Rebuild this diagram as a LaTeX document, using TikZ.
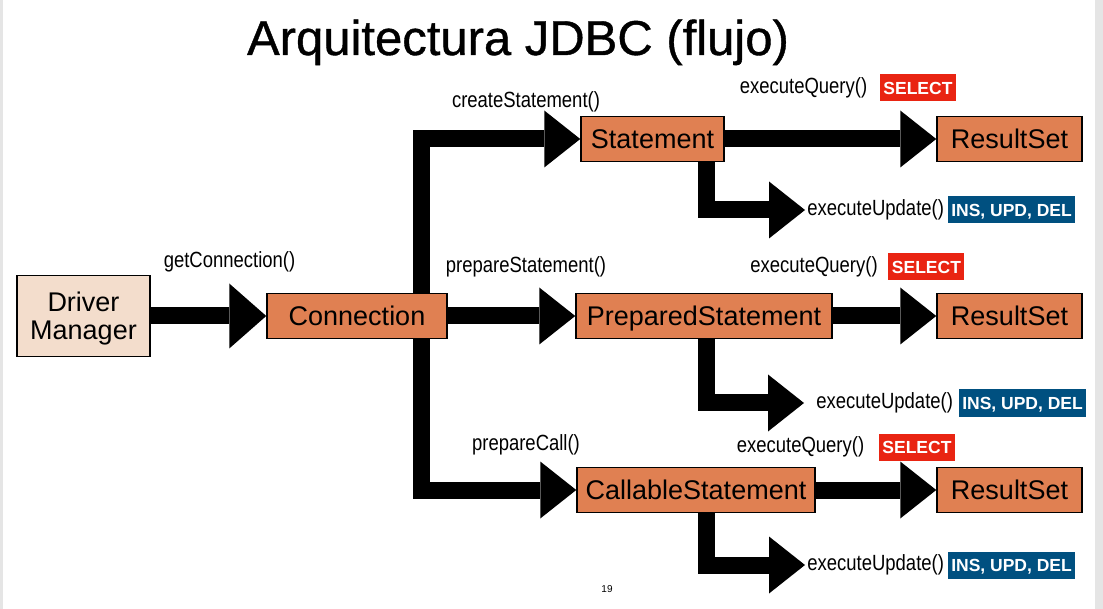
\documentclass[tikz,border=0pt]{standalone}
\usepackage{fontspec}
\setmainfont{Liberation Sans}
\newfontfamily\narrowfont[FakeStretch=0.84]{Liberation Sans}
\newfontfamily\titlefont[FakeBold=0.8]{Liberation Sans}
\usetikzlibrary{arrows.meta,positioning,backgrounds}

\definecolor{boxorange}{RGB}{224,128,82}
\definecolor{boxpeach}{RGB}{243,221,204}
\definecolor{tagred}{RGB}{233,36,18}
\definecolor{tagblue}{RGB}{0,80,128}
\definecolor{slidegray}{RGB}{229,229,229}

\tikzset{every picture/.style={line width=0.75pt}}
\tikzset{
    cls/.style={draw=black, line width=1.5pt, fill=boxorange, minimum height=45pt, inner sep=0pt, text height=19.3pt, text depth=0pt, font=\fontsize{27}{28}\selectfont},
    call/.style={inner sep=2pt, font=\narrowfont\fontsize{22}{24}\selectfont},
    tag/.style={text=white, inner xsep=3.5pt, inner ysep=0pt, minimum height=27pt, text height=12.5pt, text depth=0pt, font=\bfseries\fontsize{17.5}{19}\selectfont},
    flow/.style={line width=17pt, line join=miter, -{Triangle[length=36pt, width=57pt, line width=0pt]}}
}

\begin{document}
\begin{tikzpicture}[x=1pt, y=-1pt]
    \useasboundingbox (0,0) rectangle (1103,609);

    \node[anchor=base, font=\titlefont\fontsize{49}{52}\selectfont] (title) at (518,55) {Arquitectura JDBC (flujo)};

    % classes
    \node[cls, fill=boxpeach, minimum width=133pt, minimum height=81pt, text height=47.3pt, align=center] (dm) at (83.5,316) {Driver\\Manager};
    \node[cls, minimum width=180pt] (conn) at (357,316) {Connection};
    \node[cls, minimum width=143pt] (stmt) at (652.5,139) {Statement};
    \node[cls, minimum width=256pt] (pstmt) at (704,316) {PreparedStatement};
    \node[cls, minimum width=238pt] (cstmt) at (696,490) {CallableStatement};
    \node[cls, minimum width=145pt] (rs1) at (1009.5,139) {ResultSet};
    \node[cls, minimum width=145pt] (rs2) at (1009.5,316) {ResultSet};
    \node[cls, minimum width=145pt] (rs3) at (1009.5,490) {ResultSet};

    % method calls
    \node[call] (gc) at (229.5,262) {getConnection()};
    \node[call] (cs) at (526,102) {createStatement()};
    \node[call] (ps) at (526,267) {prepareStatement()};
    \node[call] (pc) at (526,445) {prepareCall()};
    \node[call] (q1) at (803.5,88) {executeQuery()};
    \node[call] (q2) at (814,267) {executeQuery()};
    \node[call] (q3) at (800.5,447) {executeQuery()};
    \node[call, anchor=west] (eu1) at (805,210) {executeUpdate()};
    \node[call, anchor=west] (eu2) at (814,403) {executeUpdate()};
    \node[call, anchor=west] (eu3) at (805,565) {executeUpdate()};

    % SQL tags
    \node[tag, fill=tagred, right=10pt of q1] (sel1) {SELECT};
    \node[tag, fill=tagred, right=8pt of q2] (sel2) {SELECT};
    \node[tag, fill=tagred, right=12pt of q3] (sel3) {SELECT};
    \node[tag, fill=tagblue, right=1pt of eu1] (iud1) {INS, UPD, DEL};
    \node[tag, fill=tagblue, right=3pt of eu2] (iud2) {INS, UPD, DEL};
    \node[tag, fill=tagblue, right=1pt of eu3] (iud3) {INS, UPD, DEL};

    \node[font=\fontsize{10}{12}\selectfont] (page) at (607,589) {19};

    \coordinate (split) at (421,316);
    \coordinate (drop) at (706,0);

    \begin{scope}[on background layer]
        \fill[slidegray] (0,0) rectangle (1103,609);
        \fill[white] (3,0) rectangle (1095,609);
        \draw[flow, -{Triangle[length=37pt, width=65pt, line width=0pt]}] (dm) -- (conn);
        \draw[flow] (split) |- (stmt.west);
        \draw[flow] (conn.east) -- (pstmt.west);
        \draw[flow] (split) |- (cstmt.west);
        \draw[flow] (stmt) -- (rs1);
        \draw[flow] (pstmt) -- (rs2);
        \draw[flow] (cstmt) -- (rs3);
        \draw[flow] (stmt.south -| drop) |- (eu1.west);
        \draw[flow, shorten >=10pt] (pstmt.south -| drop) |- (eu2.west);
        \draw[flow] (cstmt.south -| drop) |- (eu3.west);
    \end{scope}
\end{tikzpicture}
\end{document}
